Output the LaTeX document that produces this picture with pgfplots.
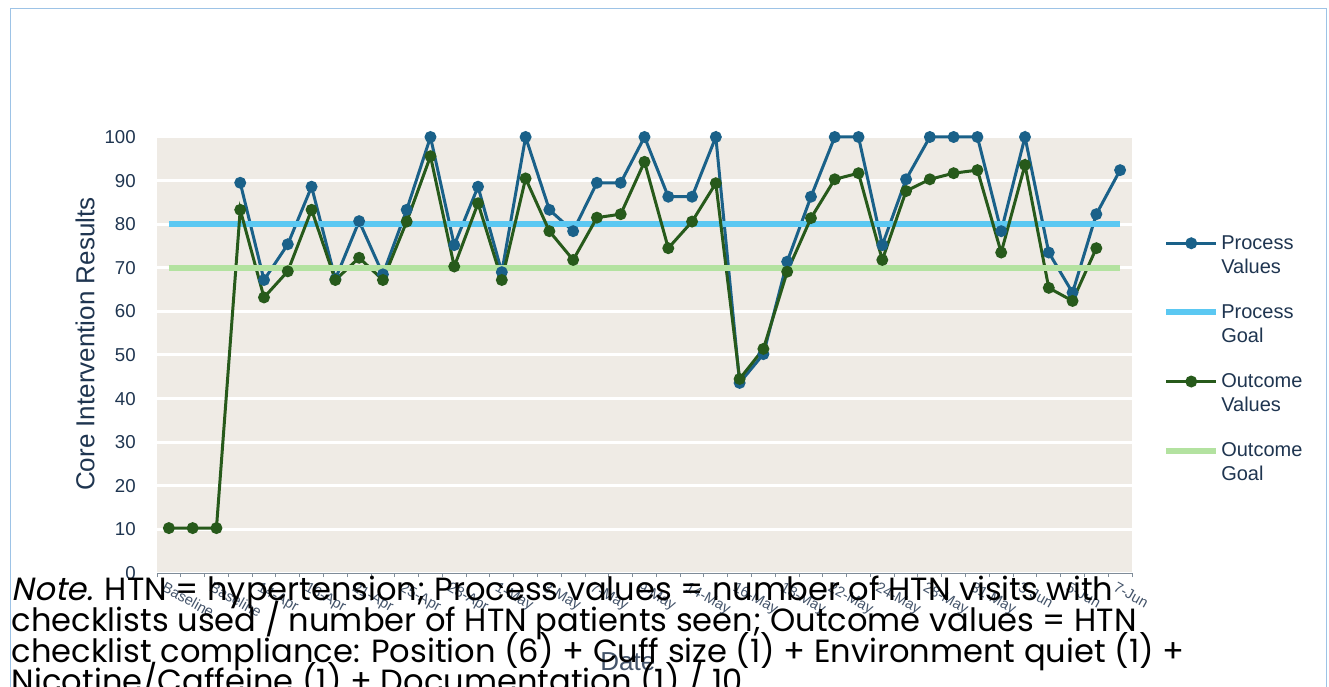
\documentclass[border=0pt]{standalone}
\usepackage{pgfplots}
\pgfplotsset{compat=1.18}
\usepackage{pgfplotstable}
\usepackage{fontspec}
\setmainfont{Liberation Sans}
\newfontfamily\notefont{Poppins}
\newfontfamily\noteit{Poppins}[FakeSlant=0.2]
\definecolor{procval}{HTML}{1A6189}
\definecolor{procgoal}{HTML}{5BC8F2}
\definecolor{outval}{HTML}{275A1B}
\definecolor{outgoal}{HTML}{B3E2A0}
\definecolor{plotbg}{HTML}{EFEBE5}
\definecolor{navy}{HTML}{1F3550}
\definecolor{slate}{HTML}{44546A}
\definecolor{axisgray}{HTML}{7F8C99}
\definecolor{framecol}{HTML}{9DC3E6}

\pgfplotstableread{
x proc out goalp goalo
0 nan 10.3 80 70
1 nan 10.3 80 70
2 nan 10.3 80 70
3 89.5 83.3 80 70
4 67.2 63.2 80 70
5 75.4 69.2 80 70
6 88.6 83.3 80 70
7 67.4 67.2 80 70
8 80.7 72.3 80 70
9 68.5 67.2 80 70
10 83.3 80.6 80 70
11 100 95.6 80 70
12 75.2 70.3 80 70
13 88.6 84.8 80 70
14 69.0 67.2 80 70
15 100 90.5 80 70
16 83.3 78.4 80 70
17 78.4 71.8 80 70
18 89.5 81.5 80 70
19 89.5 82.3 80 70
20 100 94.3 80 70
21 86.3 74.5 80 70
22 86.3 80.6 80 70
23 100 89.4 80 70
24 43.6 44.5 80 70
25 50.2 51.4 80 70
26 71.4 69.1 80 70
27 86.3 81.4 80 70
28 100 90.3 80 70
29 100 91.7 80 70
30 75.2 71.8 80 70
31 90.3 87.6 80 70
32 100 90.3 80 70
33 100 91.7 80 70
34 100 92.4 80 70
35 78.4 73.5 80 70
36 100 93.6 80 70
37 73.5 65.4 80 70
38 64.3 62.4 80 70
39 82.3 74.5 80 70
40 92.4 nan 80 70
}\chartdata

\newsavebox\notebox
\newlength\notew

\begin{document}
\sbox\notebox{\fontsize{10pt}{12pt}\selectfont\notefont{\noteit Note.} HTN = hypertension; Process values = number of HTN visits with}%
\setlength\notew{\wd\notebox}%
\pgfmathsetmacro\notesize{10*826/\notew}%
\begin{tikzpicture}
\path[use as bounding box] (0,0) rectangle (996.75pt,514.5pt);
\clip (0,0) rectangle (996.75pt,514.5pt);
\fill[white] (0,0) rectangle (996.75pt,514.5pt);
\draw[framecol, line width=0.75pt] (7.875pt,-10pt) rectangle (994.5pt,508.125pt);
\begin{axis}[
  at={(117.75pt,84.75pt)}, anchor=south west,
  scale only axis, width=731.25pt, height=327pt,
  xmin=-0.5, xmax=40.5, ymin=0, ymax=100,
  clip=false,
  /pgf/number format/assume math mode=true,
  axis background/.style={fill=plotbg},
  axis x line*=bottom, axis y line*=left,
  y axis line style={draw=none},
  x axis line style={draw=axisgray, line width=0.75pt},
  xtick={0,2,...,40},
  xticklabels={Baseline,Baseline,14-Apr,16-Apr,21-Apr,25-Apr,28-Apr,1-May,3-May,7-May,9-May,14-May,16-May,18-May,22-May,24-May,28-May,31-May,3-Jun,5-Jun,7-Jun},
  minor xtick={-0.5,0.5,...,40.5},
  major tick length=0pt, minor tick length=3pt, tick align=outside,
  minor x tick style={draw=axisgray, line width=0.75pt},
  major x tick style={draw=none},
  ytick={0,10,...,100}, ytick style={draw=none},
  ymajorgrids, grid style={white, line width=2.25pt},
  xticklabel style={font=\fontsize{11pt}{13pt}\selectfont, text=slate, inner sep=0pt, xshift=-2pt, yshift=-6pt, rotate=-29, anchor=north west},
  yticklabel style={font=\fontsize{14pt}{16pt}\selectfont, text=navy, inner sep=0pt, xshift=-15.75pt, anchor=east},
  ylabel={Core Intervention Results},
  every axis y label/.style={at={(axis description cs:-0.0738,0.525)}, rotate=90, anchor=center, font=\fontsize{19.5pt}{22pt}\selectfont, text=navy},
  xlabel={Date},
  every axis x label/.style={at={(axis description cs:0.483,-0.204)}, anchor=center, font=\fontsize{19.5pt}{22pt}\selectfont, text=slate},
  legend style={at={(1.0318,0.775)}, anchor=north west, draw=none, fill=none, inner sep=0pt, row sep=22pt, column sep=1.5pt, font=\fontsize{15pt}{18pt}\selectfont, text=navy, cells={align=left, anchor=west}, nodes={inner sep=0pt}},
  legend cell align=left,
  legend image code/.code={\draw[mark repeat=2,mark phase=2,yshift=9pt,#1] plot coordinates {(0pt,0pt) (18.75pt,0pt) (37.5pt,0pt)};},
  unbounded coords=jump,
]
\addplot[procval, line width=2.25pt, mark=*, mark size=3.3pt, mark options={solid}] table[x=x,y=proc] {\chartdata};
\addlegendentry{Process\\Values}
\addplot[procgoal, line width=4.5pt, no marks] table[x=x,y=goalp] {\chartdata};
\addlegendentry{Process\\Goal}
\addplot[outval, line width=2.25pt, mark=*, mark size=3.3pt, mark options={solid}] table[x=x,y=out] {\chartdata};
\addlegendentry{Outcome\\Values}
\addplot[outgoal, line width=4.5pt, no marks] table[x=x,y=goalo] {\chartdata};
\addlegendentry{Outcome\\Goal}
\end{axis}
\begin{scope}[every node/.style={anchor=base west, inner sep=0pt, font=\fontsize{\notesize pt}{\notesize pt}\selectfont\notefont, text=black}]
\node at (8.75pt,63.75pt) {{\noteit Note.} HTN = hypertension; Process values = number of HTN visits with};
\node at (8.75pt,40.7pt) {checklists used / number of HTN patients seen; Outcome values = HTN};
\node at (8.75pt,17.8pt) {checklist compliance: Position (6) + Cuff size (1) + Environment quiet (1) +};
\node at (8.75pt,-5.25pt) {Nicotine/Caffeine (1) + Documentation (1) / 10};
\end{scope}
\end{tikzpicture}
\end{document}
